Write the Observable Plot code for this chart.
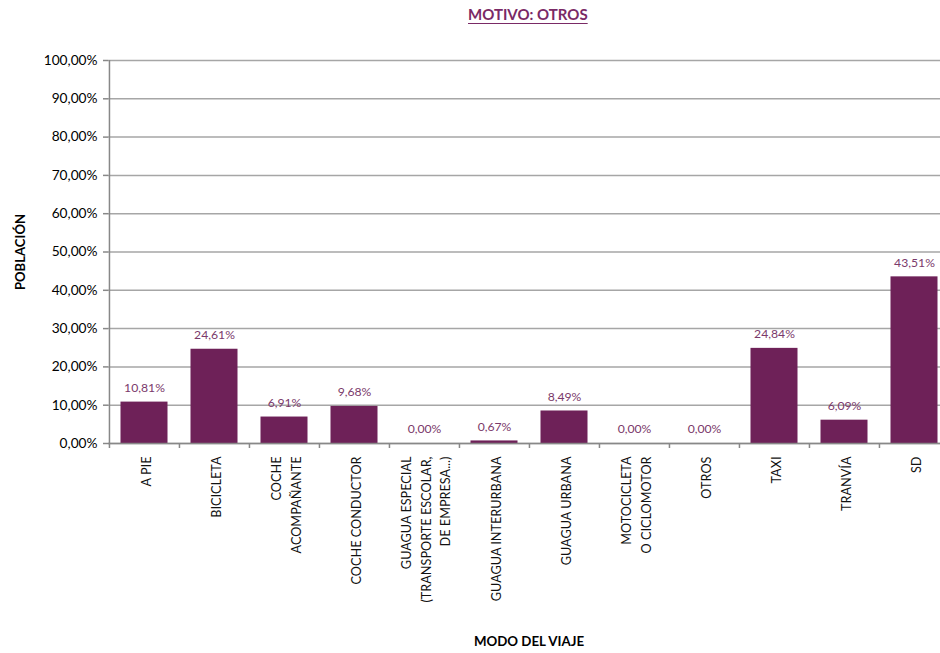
<!DOCTYPE html>
<html><head><meta charset="utf-8">
<script src="https://cdn.jsdelivr.net/npm/d3@7"></script>
<script src="https://cdn.jsdelivr.net/npm/@observablehq/plot@0.6"></script>
<style>
html,body{margin:0;padding:0;background:#fff;overflow:hidden;}
#title{height:30px;width:940px;position:relative;font-family:Lato,"Open Sans",sans-serif;}
#title span{position:absolute;left:468px;top:5px;font-size:15px;font-weight:bold;color:#7a2a66;text-decoration:underline;text-underline-offset:3px;white-space:nowrap;}
</style></head><body>
<div id="title"><span>MOTIVO: OTROS</span></div>
<div id="chart"></div>
<script>
const categories = ["A PIE","BICICLETA","COCHE ACOMPAÑANTE","COCHE CONDUCTOR","GUAGUA ESPECIAL","GUAGUA INTERURBANA","GUAGUA URBANA","MOTOCICLETA","OTROS","TAXI","TRANVÍA","SD"];
const tickLabels = ["A PIE","BICICLETA","COCHE\nACOMPAÑANTE","COCHE CONDUCTOR","GUAGUA ESPECIAL\n(TRANSPORTE ESCOLAR,\nDE EMPRESA...)","GUAGUA INTERURBANA","GUAGUA URBANA","MOTOCICLETA\nO CICLOMOTOR","OTROS","TAXI","TRANVÍA","SD"];
const values = [10.81,24.61,6.91,9.68,0.00,0.67,8.49,0.00,0.00,24.84,6.09,43.51];
const yTicks = [0,10,20,30,40,50,60,70,80,90,100];

const data = categories.map((c,i)=>({cat:c, label:tickLabels[i], value:values[i]}));
const fmt = v => v.toFixed(2).replace(".", ",") + "%";

const W = 940, H = 623, ML = 108, MR = -9, MT = 30, MB = 210;
const step = (W - ML - MR) / categories.length;
const font = "Lato, 'Open Sans', sans-serif";

const chart = Plot.plot({
  width: W, height: H, marginLeft: ML, marginRight: MR, marginTop: MT, marginBottom: MB,
  style: {fontFamily: font, fontSize: "13px", color: "#000", background: "#fff", overflow: "visible"},
  x: {domain: categories, padding: 0, axis: null},
  y: {domain: [0, 100], axis: null},
  marks: [
    Plot.gridY(yTicks, {stroke: "#a6a6a6", strokeOpacity: 1, strokeWidth: 1.5}),
    Plot.barY(data, {x: "cat", y: "value", fill: "#6e2158", insetLeft: 11.5, insetRight: 11.5}),
    Plot.text(data, {x: "cat", y: "value", text: d => fmt(d.value), dy: -14, fill: "#7b3a6b", fontSize: 12.2}),
    Plot.ruleY([0], {stroke: "#888", strokeWidth: 1.5}),
    Plot.ruleX(data.slice(0,1), {x: "cat", y1: 100, y2: 0, dx: -step/2, stroke: "#888", strokeWidth: 1.5}),
    Plot.ruleX(data, {x: "cat", y1: 0, y2: 0, insetBottom: -5, dx: -step/2, stroke: "#888", strokeWidth: 1.5}),
    Plot.axisY(yTicks, {tickSize: 5, tickPadding: 6, tickFormat: fmt, fontSize: 13.7, stroke: "#888", strokeWidth: 1.5, label: null}),
    Plot.text(data, {x: "cat", text: "label", frameAnchor: "bottom", rotate: -90, textAnchor: "end", lineAnchor: "middle", dy: 13, lineHeight: 1.55, fontSize: 12.7, fill: "#111", ariaLabel: "xlabels"}),
    Plot.text(["POBLACIÓN"], {text: d => d, frameAnchor: "left", rotate: -90, textAnchor: "middle", lineAnchor: "middle", dx: -88, fontWeight: "bold", fontSize: 13.1}),
    Plot.text(["MODO DEL VIAJE"], {text: d => d, frameAnchor: "bottom", textAnchor: "middle", lineAnchor: "middle", dy: 198, fontWeight: "bold", fontSize: 13.3})
  ]
});
document.getElementById("chart").appendChild(chart);

// center the lines of multi-line rotated tick labels
d3.select(chart).selectAll('g[aria-label="xlabels"] text').each(function() {
  const t = d3.select(this);
  const spans = t.selectAll("tspan");
  if (spans.size() < 2) return;
  let L = 0;
  spans.each(function(){ L = Math.max(L, this.getComputedTextLength()); });
  t.attr("text-anchor", "middle");
  spans.attr("x", -L/2);
});
</script>
</body></html>
